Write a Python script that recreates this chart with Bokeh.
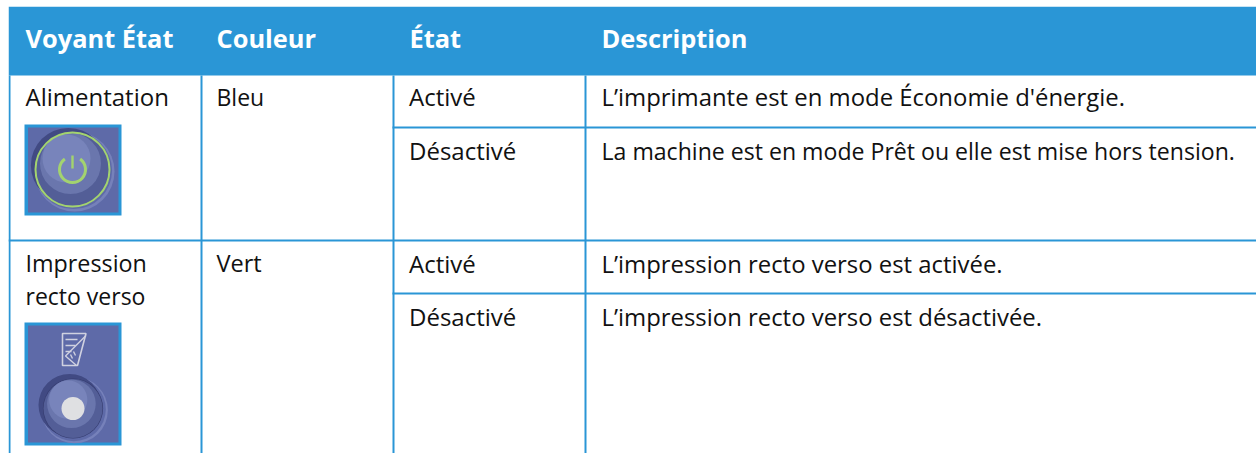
from bokeh.embed import file_html
from bokeh.resources import INLINE
from bokeh.plotting import figure
from bokeh.core.properties import value

# ---- table content ----
headers = ["Voyant État", "Couleur", "État", "Description"]
voyants = ["Alimentation", "Impression", "recto verso"]
couleurs = ["Bleu", "Vert"]
etats = ["Activé", "Désactivé", "Activé", "Désactivé"]
descriptions = [
    "L’imprimante est en mode Économie d'énergie.",
    "La machine est en mode Prêt ou elle est mise hors tension.",
    "L’impression recto verso est activée.",
    "L’impression recto verso est désactivée.",
]

# ---- styles ----
BLUE = "#2a96d6"
INK = "#111111"
FONT = "Open Sans"
W, H = 1248, 447
X0, Y0 = 8, 6

p = figure(width=W, height=H, x_range=(X0, X0 + W), y_range=(Y0 + H, Y0),
           toolbar_location=None, output_backend="svg", min_border=0,
           x_axis_type=None, y_axis_type=None, outline_line_color=None,
           background_fill_color="white", border_fill_color="white")
p.grid.visible = False
p.styles = {"position": "absolute", "left": "8px", "top": "6px"}

# header band
p.quad(left=[8], right=[1256], top=[6], bottom=[75], fill_color=BLUE, line_color=None)
# grid of the table
col_lines = [9, 201, 393, 585]
for cx in col_lines:
    p.quad(left=[cx - 1], right=[cx + 1], top=[75], bottom=[453], fill_color=BLUE, line_color=None)
p.quad(left=[8], right=[1256], top=[239], bottom=[241], fill_color=BLUE, line_color=None)
p.quad(left=[392], right=[1256], top=[126], bottom=[128], fill_color=BLUE, line_color=None)
p.quad(left=[392], right=[1256], top=[292], bottom=[294], fill_color=BLUE, line_color=None)

LIFT = 11


def label(x, y, s, size, color=INK, style="normal"):
    p.text(x=[x], y=[y - LIFT], text=[s], text_font=value(FONT), text_font_size=f"{size}px",
           text_color=color, text_baseline="alphabetic", text_align="left",
           text_font_style=style)


head_x = [25, 216, 409, 601]
for x, s in zip(head_x, headers):
    label(x, 48, s, 25.4, "white", "bold")

label(25, 107, voyants[0], 24)
label(25, 273, voyants[1], 23.3)
label(25, 306, voyants[2], 23)
label(216, 107, couleurs[0], 23)
label(216, 273, couleurs[1], 23.5)
etat_y = [107, 161, 274, 327]
for y, s in zip(etat_y, etats):
    label(408.5, y, s, 24)
desc_size = [23.9, 23.1, 23.9, 23.9]
for y, s, z in zip(etat_y, descriptions, desc_size):
    label(601, y, s, z)

# ---- icons ----
PANEL = "#5e6aa8"


def disc(cx, cy, r, color):
    p.circle(x=[cx], y=[cy], radius=r, fill_color=color, line_color=None)


def panel(top, bottom):
    p.quad(left=[24], right=[121], top=[top], bottom=[bottom], fill_color=BLUE, line_color=None)
    p.quad(left=[27.5], right=[118], top=[top + 3], bottom=[bottom - 3], fill_color=PANEL, line_color=None)


def button(cx, cy, r, rim):
    k = r / 37.0
    disc(cx + 0.05 * rim, cy + 0.05 * rim, 0.975 * rim, "#7681ba")
    disc(cx + 0.025 * rim, cy + 0.025 * rim, 0.94 * rim, PANEL)
    disc(cx - 0.1 * rim, cy - 0.1 * rim, 0.915 * rim, "#414a83")
    disc(cx, cy, r + 0.6, "#363d70")
    disc(cx, cy, r, "#535e97")
    disc(cx - 2 * k, cy - 6 * k, 30.5 * k, "#6a76ad")
    disc(cx - 6 * k, cy - 11 * k, 24 * k, "#7884bb")


GREEN = "#a3d36f"
panel(124, 215)
button(72, 169, 37, 41)
p.circle(x=[72], y=[169], radius=37, fill_color=None, line_color=GREEN, line_width=2)
p.arc(x=[72], y=[169], radius=13, start_angle=2.2, end_angle=0.94, direction="anticlock",
      line_color=GREEN, line_width=3)
p.line(x=[72, 72], y=[155, 168], line_color=GREEN, line_width=2.4)

panel(322, 445)
button(72.5, 408, 29.5, 34)
disc(72.5, 408, 11.5, "#dfe0e2")
ICON = "#cfd1e0"
p.patch(x=[62, 85.5, 77, 62], y=[333, 333, 365, 365], fill_color=None, line_color=ICON, line_width=1.6)
p.multi_line(xs=[[65, 77], [65, 75], [65, 71], [85.5, 65, 76], [70, 72], [73, 75]],
             ys=[[339, 339], [345, 345], [351, 351], [335, 355.5, 365], [354, 358], [351, 355]],
             line_color=ICON, line_width=1.4)

open("out.html", "w").write(file_html(p, INLINE))
